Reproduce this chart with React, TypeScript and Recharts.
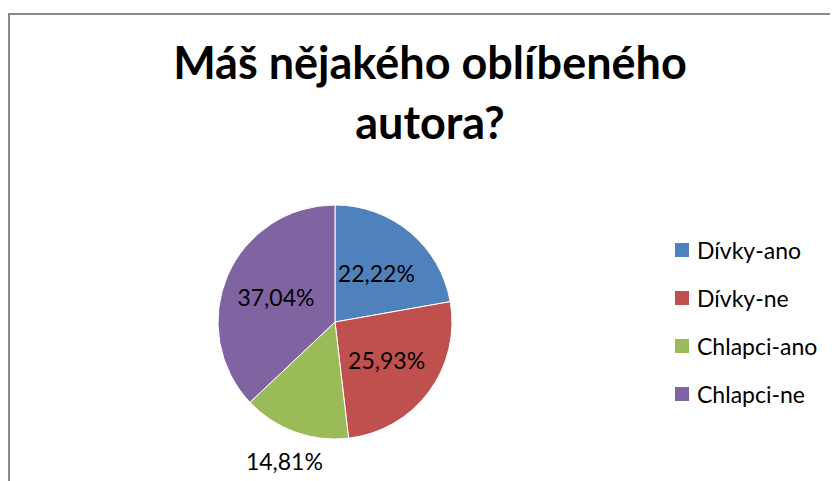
import { PieChart, Pie, Cell, Legend } from 'recharts'

// ============================================
// DATA
// ============================================

const categories = ['Dívky-ano', 'Dívky-ne', 'Chlapci-ano', 'Chlapci-ne']
const shares = [22.22, 25.93, 14.81, 37.04]
const colors = ['#4F81BD', '#C0504D', '#9BBB59', '#8064A2']
const title = ['Máš nějakého oblíbeného', 'autora?']

const data = categories.map((name, i) => ({ name, value: shares[i], color: colors[i] }))

const FONT = 'Lato, "Open Sans", sans-serif'
const RADIAN = Math.PI / 180

const formatPct = (v: number) => `${v.toFixed(2).replace('.', ',')}%`

// labely uvnitř výseče, malé výseče ven (jako Excel "best fit")
const renderLabel = (props: any) => {
  const { cx, cy, midAngle, outerRadius, value } = props
  const outside = value < 20
  const r = outside ? outerRadius + 31 : outerRadius * 0.55
  const x = cx + r * Math.cos(-midAngle * RADIAN)
  const y = cy + r * Math.sin(-midAngle * RADIAN)
  return (
    <text
      x={x}
      y={y}
      fill="#000"
      textAnchor="middle"
      dominantBaseline="central"
      style={{ fontFamily: FONT, fontSize: 23 }}
    >
      {formatPct(value)}
    </text>
  )
}

// legenda v pořadí dat (ne abecedně)
const renderLegend = () => (
  <div style={{ fontFamily: FONT, fontSize: 23, color: '#000' }}>
    {data.map((entry) => (
      <div
        key={entry.name}
        style={{ display: 'flex', alignItems: 'center', height: 48 }}
      >
        <span
          style={{
            display: 'inline-block',
            width: 14,
            height: 14,
            backgroundColor: entry.color,
            marginRight: 8
          }}
        />
        <span>{entry.name}</span>
      </div>
    ))}
  </div>
)

export default function App() {
  return (
    <div style={{ paddingTop: 5 }}>
      <div
        style={{
          position: 'relative',
          width: 844,
          height: 480,
          border: '2px solid #8a8a8a',
          boxSizing: 'border-box',
          background: '#fff'
        }}
      >
        <div
          style={{
            position: 'absolute',
            left: 0,
            top: 17,
            width: 840,
            textAlign: 'center',
            fontFamily: FONT,
            fontWeight: 'bold',
            fontSize: 45,
            lineHeight: '60px',
            color: '#000'
          }}
        >
          {title.map((t) => (
            <div key={t}>{t}</div>
          ))}
        </div>
        <PieChart width={838} height={476} margin={{ top: 0, right: 0, bottom: 0, left: 0 }}>
          <Pie
            data={data}
            dataKey="value"
            nameKey="name"
            cx={325}
            cy={307}
            outerRadius={117}
            startAngle={90}
            endAngle={-270}
            stroke="#fff"
            strokeWidth={1}
            labelLine={false}
            label={renderLabel}
            isAnimationActive={false}
          >
            {data.map((entry, index) => (
              <Cell key={`cell-${index}`} fill={entry.color} />
            ))}
          </Pie>
          <Legend
            layout="vertical"
            content={renderLegend}
            wrapperStyle={{ left: 665, top: 211, width: 170 }}
          />
        </PieChart>
      </div>
    </div>
  )
}
